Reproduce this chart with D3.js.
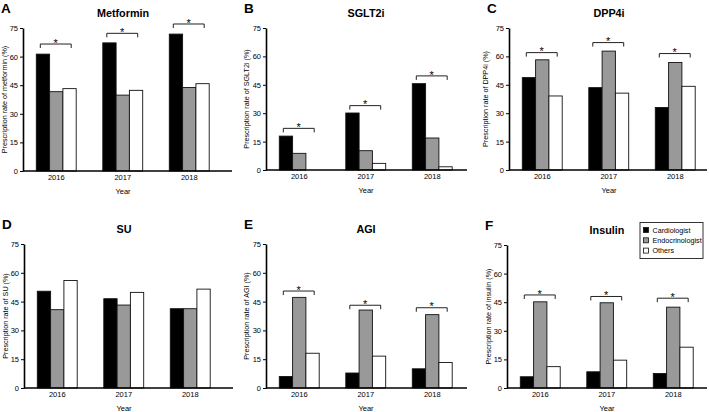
<!DOCTYPE html>
<html><head><meta charset="utf-8">
<script src="https://cdn.jsdelivr.net/npm/d3@7"></script>
<style>
html,body{margin:0;padding:0;background:#fff;}
svg{display:block;font-family:"Liberation Sans",Arial,sans-serif;}
</style></head>
<body>
<svg id="chart" width="709" height="412"></svg>
<script>
// ---- data ----
const years = ["2016", "2017", "2018"];
const specialties = ["Cardiologist", "Endocrinologist", "Others"];
const yTicks = [0, 15, 30, 45, 60, 75];
// values per year: [Cardiologist, Endocrinologist, Others]
const metformin = [[61.3, 41.6, 43.2], [67.2, 39.8, 42.3], [71.8, 43.8, 45.8]];
const sglt2i    = [[17.9, 8.8, 0.0],   [30.1, 10.2, 3.5],  [45.6, 16.9, 1.7]];
const dpp4i     = [[48.8, 58.2, 39.1], [43.5, 62.8, 40.6], [33.0, 56.8, 44.2]];
const su        = [[50.4, 40.8, 56.0], [46.5, 43.2, 49.8], [41.3, 41.3, 51.5]];
const agi       = [[6.0, 47.2, 18.1],  [7.8, 40.6, 16.6],  [10.0, 38.2, 13.3]];
const insulin   = [[5.9, 45.2, 11.2],  [8.5, 44.7, 14.6],  [7.6, 42.4, 21.4]];
// significance bracket levels (% scale); null = no bracket
const metforminSig = [66.6, 72.2, 77.1];
const sglt2iSig    = [22.0, 34.0, 49.7];
const dpp4iSig     = [62.0, 67.3, 61.5];
const suSig        = [null, null, null];
const agiSig       = [50.5, 43.1, 41.8];
const insulinSig   = [48.8, 48.0, 47.1];

const panels = [
  {letter: "A", title: "Metformin", ylab: "Prescription rate of metformin (%)", data: metformin, sig: metforminSig,
   x0: 23, w: 209, top: 28, bot: 171, labOff: 16},
  {letter: "B", title: "SGLT2i", ylab: "Prescription rate of SGLT2i (%)", data: sglt2i, sig: sglt2iSig,
   x0: 266, w: 201, top: 28, bot: 170, labOff: 17},
  {letter: "C", title: "DPP4i", ylab: "Prescription rate of DPP4i (%)", data: dpp4i, sig: dpp4iSig,
   x0: 509, w: 198, top: 28, bot: 170, labOff: 21},
  {letter: "D", title: "SU", ylab: "Prescription rate of SU (%)", data: su, sig: suSig,
   x0: 24, w: 209, top: 244, bot: 388, labOff: 16},
  {letter: "E", title: "AGI", ylab: "Prescription rate of AGI (%)", data: agi, sig: agiSig,
   x0: 266, w: 201, top: 244, bot: 388, labOff: 17},
  {letter: "F", title: "Insulin", ylab: "Prescription rate of insulin (%)", data: insulin, sig: insulinSig,
   x0: 507, w: 200, top: 245, bot: 388, labOff: 16}
];

const fills = d3.scaleOrdinal().domain(specialties).range(["#000000", "#999999", "#ffffff"]);
const svg = d3.select("#chart");

panels.forEach(p => {
  const g = svg.append("g");
  const x = d3.scaleBand().domain(years).range([p.x0, p.x0 + 199.5]).paddingInner(0.4).paddingOuter(0.2);
  const xs = d3.scaleBand().domain(specialties).range([0, x.bandwidth()]);
  const y = d3.scaleLinear().domain([0, 75]).range([p.bot, p.top]);

  // bars
  years.forEach((yr, i) => {
    const vals = p.data[i];
    g.selectAll(null).data(specialties.map((s, j) => ({s, v: vals[j]}))).enter()
      .append("rect")
      .attr("x", d => x(yr) + xs(d.s))
      .attr("y", d => y(d.v))
      .attr("width", xs.bandwidth())
      .attr("height", d => y(0) - y(d.v))
      .attr("fill", d => fills(d.s))
      .attr("stroke", d => d.v > 0 ? "#111" : "none")
      .attr("stroke-width", 0.9);

    const lvl = p.sig[i];
    if (lvl != null) {
      const by = y(lvl);
      const bx0 = x(yr) + 4, bx1 = x(yr) + x.bandwidth() - 5;
      g.append("path")
        .attr("d", `M${bx0},${by + 4}V${by}H${bx1}V${by + 4}`)
        .attr("fill", "none").attr("stroke", "#222").attr("stroke-width", 1);
      g.append("text").attr("x", (bx0 + bx1) / 2).attr("y", by + 2.6)
        .attr("text-anchor", "middle").attr("font-size", 11).attr("fill", "#000").text("*");
    }
  });

  // y axis
  const ya = g.append("g").attr("transform", `translate(${p.x0},0)`)
    .call(d3.axisLeft(y).tickValues(yTicks).tickSize(3).tickPadding(2).tickSizeOuter(0));
  ya.select(".domain").attr("stroke-width", 1.6);
  ya.selectAll(".tick line").attr("stroke-width", 1);
  ya.selectAll(".tick text").attr("font-size", 7.5).attr("font-family", "Liberation Sans, Arial, sans-serif");

  // x axis
  const xa = g.append("g").attr("transform", `translate(0,${p.bot})`)
    .call(d3.axisBottom(x).tickSize(0).tickPadding(4));
  xa.select(".domain").attr("d", `M${p.x0},0H${p.x0 + p.w}`).attr("stroke-width", 1.6);
  xa.selectAll(".tick text").attr("font-size", 7.5).attr("font-family", "Liberation Sans, Arial, sans-serif");

  const cx = p.x0 + 100;
  g.append("text").attr("x", cx).attr("y", p.bot + 23).attr("text-anchor", "middle")
    .attr("font-size", 7.5).text("Year");
  g.append("text")
    .attr("transform", `translate(${p.x0 - p.labOff},${(p.top + p.bot) / 2}) rotate(-90)`)
    .attr("text-anchor", "middle").attr("font-size", 7.2).text(p.ylab);
  g.append("text").attr("x", cx).attr("y", p.top - 11).attr("text-anchor", "middle")
    .attr("font-size", 10.8).attr("font-weight", "bold").text(p.title);
  g.append("text").attr("x", p.x0 - 22).attr("y", p.top - 15)
    .attr("font-size", 13.5).attr("font-weight", "bold").text(p.letter);
});

// legend
const lg = svg.append("g").attr("transform", "translate(640,222.5)");
lg.append("rect").attr("width", 63).attr("height", 36).attr("fill", "#fff")
  .attr("stroke", "#333").attr("stroke-width", 1);
specialties.forEach((s, i) => {
  lg.append("rect").attr("x", 3.5).attr("y", 5 + i * 10.3).attr("width", 5).attr("height", 5)
    .attr("fill", fills(s)).attr("stroke", "#111").attr("stroke-width", 0.8);
  lg.append("text").attr("x", 12.5).attr("y", 10 + i * 10.3).attr("font-size", 7.2).text(s);
});
</script>
</body></html>
